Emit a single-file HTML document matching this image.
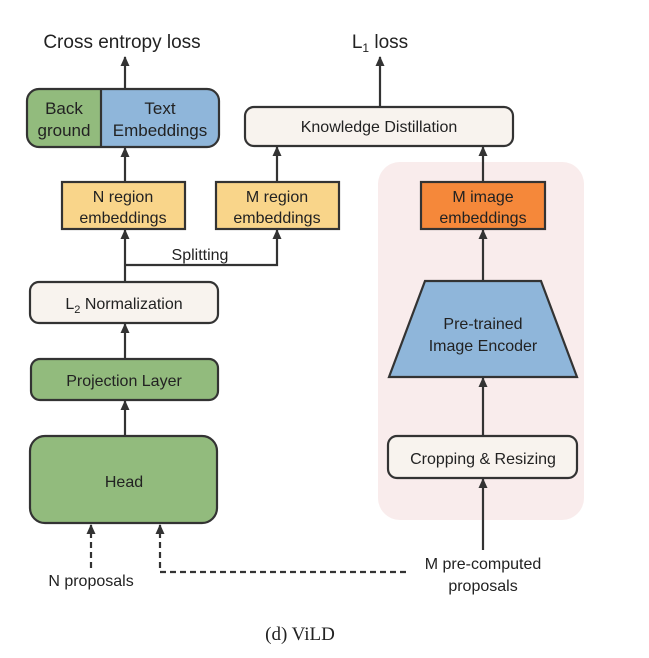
<!DOCTYPE html>
<html><head><meta charset="utf-8"><style>
html,body{margin:0;padding:0;background:#fff;}
svg{display:block;}
text{font-family:"Liberation Sans",sans-serif;fill:#222;}
</style></head><body>
<svg width="649" height="658" viewBox="0 0 649 658" xmlns="http://www.w3.org/2000/svg">
<defs>
<marker id="ah" markerWidth="10" markerHeight="10" refX="9" refY="4.5" orient="auto" markerUnits="userSpaceOnUse" viewBox="0 0 10 10">
<path d="M0,0 L10,4.5 L0,9 Z" fill="#333"/>
</marker>
</defs>
<rect x="378" y="162" width="206" height="358" rx="22" fill="#f9ecec"/>
<text x="122" y="48" font-size="19" text-anchor="middle">Cross entropy loss</text>
<text x="380" y="48" font-size="19" text-anchor="middle">L<tspan font-size="12" dy="4">1</tspan><tspan dy="-4"> loss</tspan></text>

<g stroke="#333" stroke-width="2.2" fill="none">
<line x1="125" y1="89" x2="125" y2="57" marker-end="url(#ah)"/>
<line x1="380" y1="107" x2="380" y2="57" marker-end="url(#ah)"/>
<path d="M101,89 H39 a12,12 0 0 0 -12,12 V135 a12,12 0 0 0 12,12 H101 Z" fill="#92bb7d" stroke="none"/>
<path d="M101,89 H207 a12,12 0 0 1 12,12 V135 a12,12 0 0 1 -12,12 H101 Z" fill="#8fb6da" stroke="none"/>
<rect x="27" y="89" width="192" height="58" rx="12"/>
<line x1="101" y1="89" x2="101" y2="147"/>
<rect x="245" y="107" width="268" height="39" rx="9" fill="#f8f3ee"/>
<rect x="62" y="182" width="123" height="47" fill="#f9d58a"/>
<rect x="216" y="182" width="123" height="47" fill="#f9d58a"/>
<rect x="421" y="182" width="124" height="47" fill="#f5883a"/>
<line x1="125" y1="182" x2="125" y2="148" marker-end="url(#ah)"/>
<line x1="277" y1="182" x2="277" y2="147" marker-end="url(#ah)"/>
<line x1="483" y1="182" x2="483" y2="147" marker-end="url(#ah)"/>
<polyline points="125,265 277,265 277,230" marker-end="url(#ah)"/>
<line x1="125" y1="282" x2="125" y2="230" marker-end="url(#ah)"/>
<rect x="30" y="282" width="188" height="41" rx="9" fill="#f8f3ee"/>
<rect x="31" y="359" width="187" height="41" rx="9" fill="#92bb7d"/>
<line x1="125" y1="359" x2="125" y2="324" marker-end="url(#ah)"/>
<rect x="30" y="436" width="187" height="87" rx="15" fill="#92bb7d"/>
<line x1="125" y1="436" x2="125" y2="401" marker-end="url(#ah)"/>
<polygon points="425,281 541,281 577,377 389,377" fill="#8fb6da"/>
<line x1="483" y1="281" x2="483" y2="230" marker-end="url(#ah)"/>
<rect x="388" y="436" width="189" height="42" rx="9" fill="#f8f3ee"/>
<line x1="483" y1="436" x2="483" y2="378" marker-end="url(#ah)"/>
<line x1="483" y1="550" x2="483" y2="479" marker-end="url(#ah)"/>
<g stroke-dasharray="6,4">
<line x1="91" y1="568" x2="91" y2="525" marker-end="url(#ah)"/>
<polyline points="406,572 160,572 160,525" marker-end="url(#ah)"/>
</g>
</g>
<text x="64" y="114" font-size="17" text-anchor="middle">Back</text>
<text x="64" y="136" font-size="17" text-anchor="middle">ground</text>
<text x="160" y="114" font-size="17" text-anchor="middle">Text</text>
<text x="160" y="136" font-size="17" text-anchor="middle">Embeddings</text>
<text x="379" y="132" font-size="16" text-anchor="middle">Knowledge Distillation</text>
<text x="123" y="202" font-size="16" text-anchor="middle">N region</text>
<text x="123" y="223" font-size="16" text-anchor="middle">embeddings</text>
<text x="277" y="202" font-size="16" text-anchor="middle">M region</text>
<text x="277" y="223" font-size="16" text-anchor="middle">embeddings</text>
<text x="483" y="202" font-size="16" text-anchor="middle">M image</text>
<text x="483" y="223" font-size="16" text-anchor="middle">embeddings</text>
<text x="200" y="260" font-size="16" text-anchor="middle">Splitting</text>
<text x="124" y="309" font-size="16" text-anchor="middle">L<tspan font-size="11" dy="4">2</tspan><tspan dy="-4"> Normalization</tspan></text>
<text x="124" y="386" font-size="16" text-anchor="middle">Projection Layer</text>
<text x="124" y="487" font-size="16" text-anchor="middle">Head</text>
<text x="483" y="329" font-size="16" text-anchor="middle">Pre-trained</text>
<text x="483" y="351" font-size="16" text-anchor="middle">Image Encoder</text>
<text x="483" y="464" font-size="16" text-anchor="middle">Cropping &amp; Resizing</text>
<text x="91" y="586" font-size="16" text-anchor="middle">N proposals</text>
<text x="483" y="569" font-size="16" text-anchor="middle">M pre-computed</text>
<text x="483" y="591" font-size="16" text-anchor="middle">proposals</text>
<text x="300" y="640" font-size="19" text-anchor="middle" style="font-family:'Liberation Serif',serif">(d) ViLD</text>
</svg>
</body></html>
